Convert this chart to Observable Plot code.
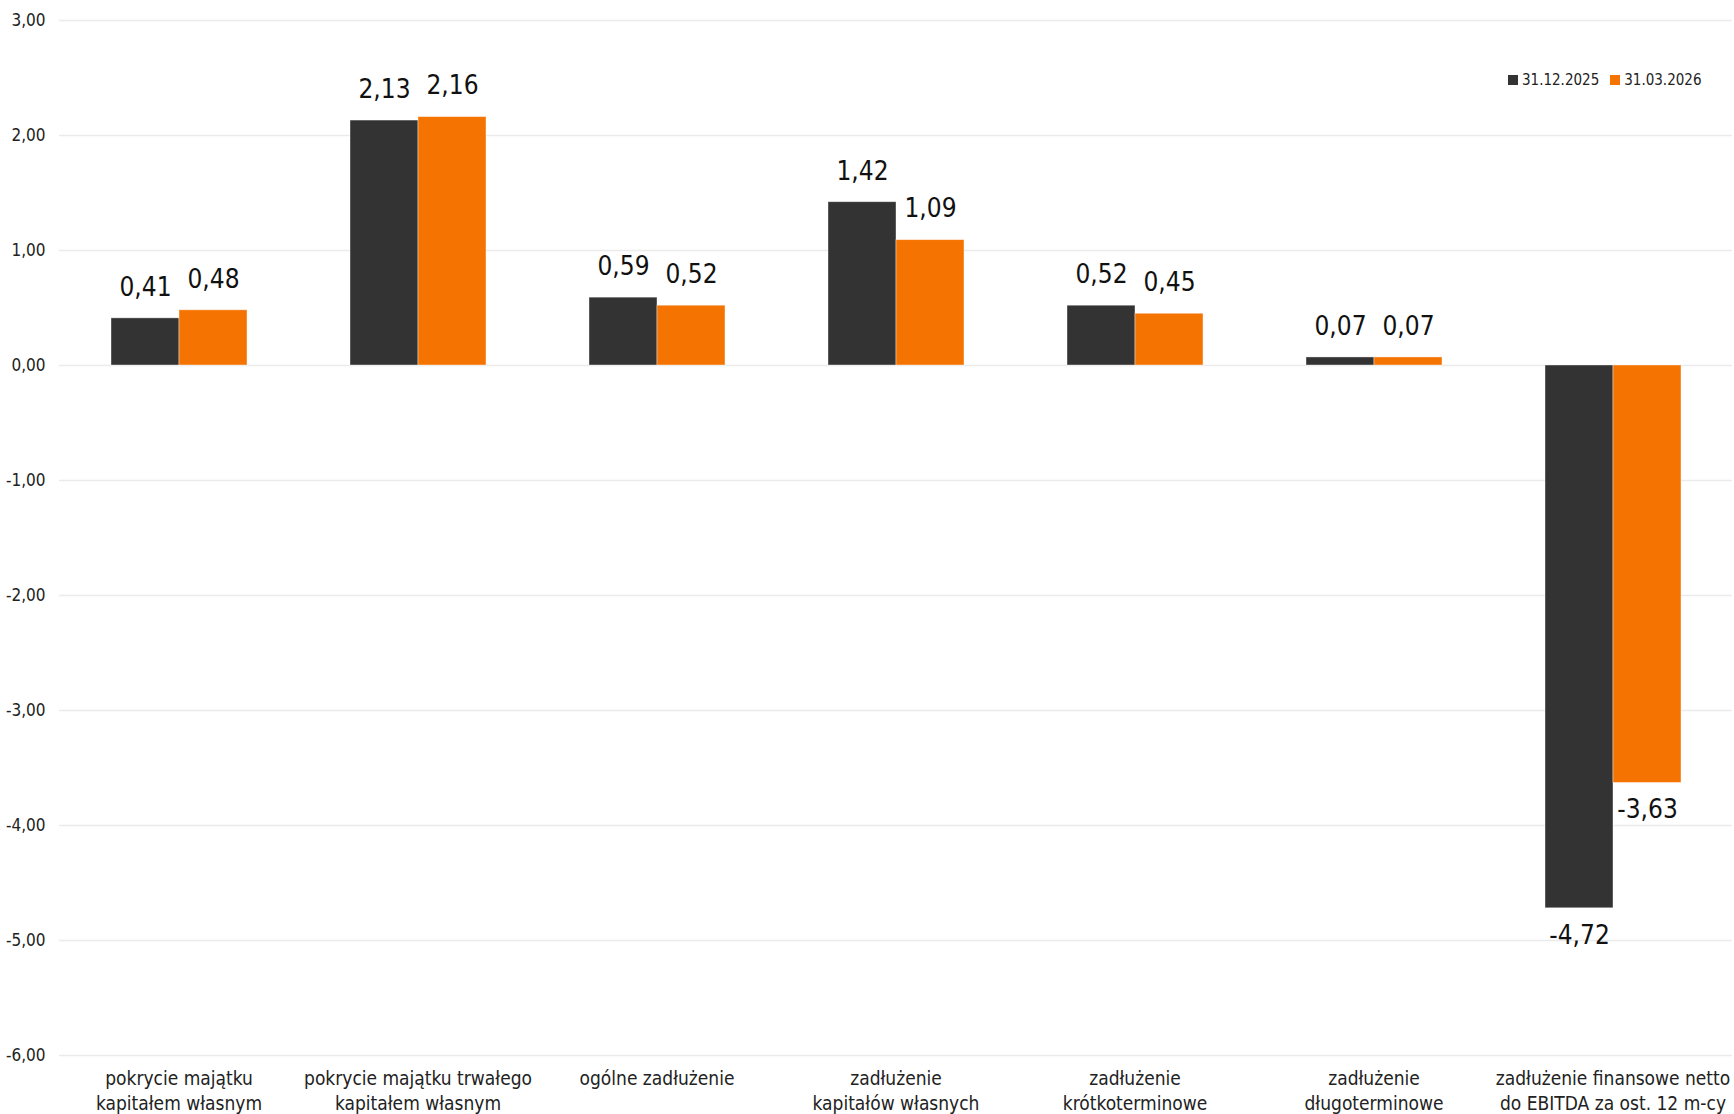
<!DOCTYPE html>
<html>
<head>
<meta charset="utf-8">
<script src="https://cdn.jsdelivr.net/npm/d3@7"></script>
<script src="https://cdn.jsdelivr.net/npm/@observablehq/plot@0.6"></script>
<style>
  html, body { margin: 0; padding: 0; background: #fff; }
  #wrap { position: relative; width: 1734px; height: 1114px; font-family: "Liberation Sans Narrow", "DejaVu Sans Condensed", sans-serif; }
  #legend { position: absolute; left: 1508px; top: 71px; font-size: 15px; color: #222; display: flex; gap: 11px; align-items: center; }
  #legend span.item { display: flex; align-items: center; gap: 4px; }
  #legend i { display: inline-block; width: 10px; height: 10px; }
</style>
</head>
<body>
<div id="wrap"><div id="legend"></div></div>
<script>
const categories = [
  "pokrycie majątku\nkapitałem własnym",
  "pokrycie majątku trwałego\nkapitałem własnym",
  "ogólne zadłużenie",
  "zadłużenie\nkapitałów własnych",
  "zadłużenie\nkrótkoterminowe",
  "zadłużenie\ndługoterminowe",
  "zadłużenie finansowe netto\ndo EBITDA za ost. 12 m-cy"
];
const series = ["31.12.2025", "31.03.2026"];
const values2025 = [0.41, 2.13, 0.59, 1.42, 0.52, 0.07, -4.72];
const values2026 = [0.48, 2.16, 0.52, 1.09, 0.45, 0.07, -3.63];
const yTicks = [-6, -5, -4, -3, -2, -1, 0, 1, 2, 3];
const colors = ["#333333", "#F57300"];

const data = categories.flatMap((c, i) => [
  {category: c, series: series[0], value: values2025[i]},
  {category: c, series: series[1], value: values2026[i]}
]);
const fmt = v => v.toFixed(2).replace(".", ",");
const font = '"Liberation Sans Narrow", "DejaVu Sans Condensed", sans-serif';

const chart = Plot.plot({
  width: 1734,
  height: 1114,
  marginLeft: 57,
  marginRight: 0,
  marginTop: 20,
  marginBottom: 59,
  style: {fontFamily: font, color: "#222", background: "#fff"},
  fx: {domain: categories, padding: 0, label: null},
  x: {domain: series, paddingInner: 0, paddingOuter: 0.745, axis: null},
  y: {domain: [-6, 3], label: null},
  color: {domain: series, range: colors},
  marks: [
    Plot.ruleY(yTicks, {stroke: "#ebebeb", strokeWidth: 1.5}),
    Plot.axisY({ticks: yTicks, tickSize: 0, tickPadding: 14, tickFormat: fmt, fontSize: 17, fill: "#222", label: null}),
    Plot.barY(data, {fx: "category", x: "series", y: "value", fill: "series", stroke: "#fff", strokeOpacity: 0.5, strokeWidth: 0.8}),
    Plot.text(data.filter(d => d.value >= 0), {fx: "category", x: "series", y: "value", text: d => fmt(d.value), dy: -31, fontSize: 26, fill: "#111"}),
    Plot.text(data.filter(d => d.value < 0), {fx: "category", x: "series", y: "value", text: d => fmt(d.value), dy: 27, fontSize: 26, fill: "#111"}),
    Plot.axisFx({anchor: "bottom", tickSize: 0, tickPadding: 12, fontSize: 19, lineHeight: 1.3, fill: "#222", label: null})
  ]
});
document.getElementById("wrap").prepend(chart);

const legend = document.getElementById("legend");
series.forEach((s, i) => {
  const item = document.createElement("span");
  item.className = "item";
  item.innerHTML = `<i style="background:${colors[i]}"></i>${s}`;
  legend.appendChild(item);
});
</script>
</body>
</html>
